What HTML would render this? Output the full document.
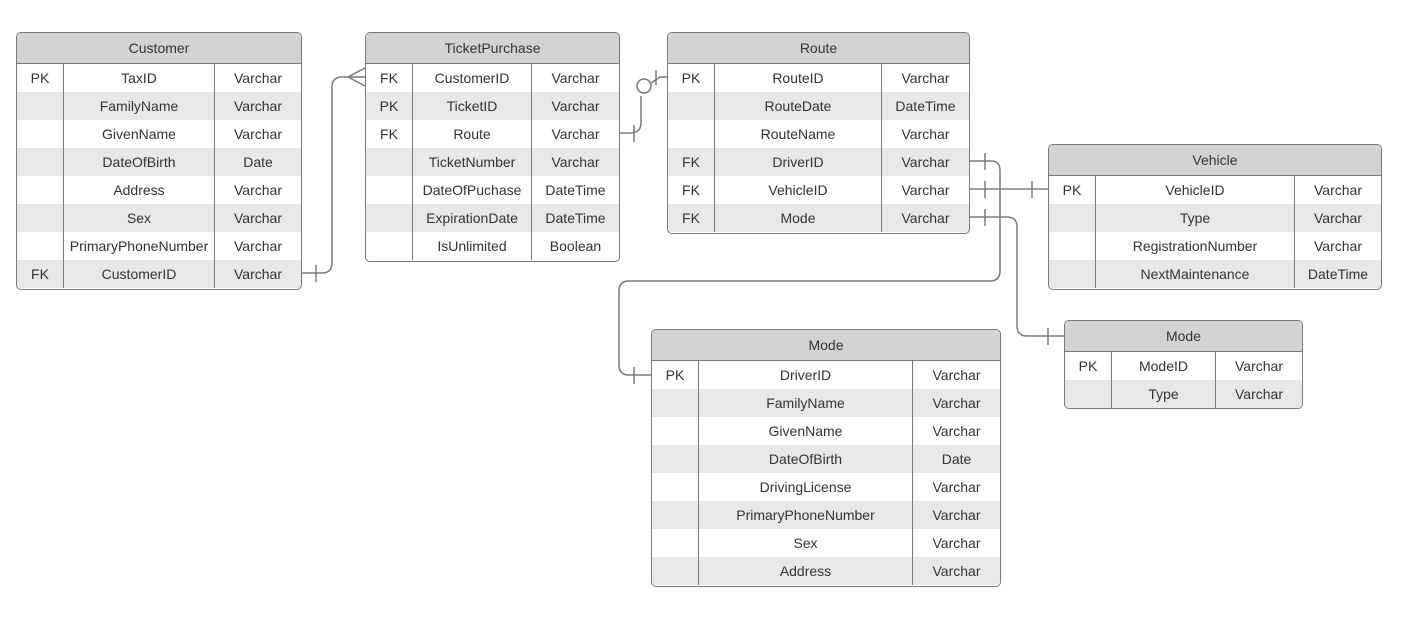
<!DOCTYPE html>
<html><head><meta charset="utf-8"><style>
html,body{margin:0;padding:0;background:#fff;width:1416px;height:629px;overflow:hidden;position:relative;font-family:"Liberation Sans",Arial,sans-serif;font-size:14px;color:#333}
.t{position:absolute;border:1.5px solid #7a7a7a;border-radius:5px;overflow:hidden;background:#fff;box-sizing:border-box}
.h{background:#d3d3d3;height:30px;line-height:30px;text-align:center;border-bottom:1.5px solid #7a7a7a}
.r{display:flex;height:28px;line-height:28px}
.r:nth-child(even){background:#e8e8e8}
.r div{text-align:center;border-right:1.5px solid #7a7a7a;box-sizing:border-box;white-space:nowrap}
.r div:last-child{border-right:none;flex:1}
svg{position:absolute;left:0;top:0}
</style></head><body>
<svg width="1416" height="629" fill="none" stroke="#7a7a7a" stroke-width="1.5">
<path d="M301 273 H322 Q332 273 332 263 V87 Q332 77 342 77 H365"/>
<path d="M316 265 V282"/>
<path d="M365 68 L348 77 L365 86"/>
<path d="M619 133 H630 Q641 133 641 123 V96"/>
<path d="M634 125 V142"/>
<circle cx="644" cy="86" r="7"/>
<path d="M651 83 L660 77 H667"/>
<path d="M656 70 V85"/>
<path d="M969 161 H991 Q1000 161 1000 171 V271 Q1000 281 990 281 H629 Q619 281 619 291 V365 Q619 375 629 375 H651"/>
<path d="M985 153 V170"/>
<path d="M634 367 V384"/>
<path d="M969 189 H1048"/>
<path d="M985 181 V198"/><path d="M1032 181 V198"/>
<path d="M969 217 H1007 Q1017 217 1017 227 V326 Q1017 336 1027 336 H1064"/>
<path d="M985 209 V226"/><path d="M1048 328 V345"/>
</svg>

<div class="t" style="left:16px;top:32px;width:286px;height:258px">
<div class="h">Customer</div>
<div>
<div class="r"><div style="width:47px">PK</div><div style="width:151px">TaxID</div><div>Varchar</div></div>
<div class="r"><div style="width:47px"></div><div style="width:151px">FamilyName</div><div>Varchar</div></div>
<div class="r"><div style="width:47px"></div><div style="width:151px">GivenName</div><div>Varchar</div></div>
<div class="r"><div style="width:47px"></div><div style="width:151px">DateOfBirth</div><div>Date</div></div>
<div class="r"><div style="width:47px"></div><div style="width:151px">Address</div><div>Varchar</div></div>
<div class="r"><div style="width:47px"></div><div style="width:151px">Sex</div><div>Varchar</div></div>
<div class="r"><div style="width:47px"></div><div style="width:151px">PrimaryPhoneNumber</div><div>Varchar</div></div>
<div class="r"><div style="width:47px">FK</div><div style="width:151px">CustomerID</div><div>Varchar</div></div>
</div></div>

<div class="t" style="left:365px;top:32px;width:255px;height:230px">
<div class="h">TicketPurchase</div>
<div>
<div class="r"><div style="width:47px">FK</div><div style="width:119px">CustomerID</div><div>Varchar</div></div>
<div class="r"><div style="width:47px">PK</div><div style="width:119px">TicketID</div><div>Varchar</div></div>
<div class="r"><div style="width:47px">FK</div><div style="width:119px">Route</div><div>Varchar</div></div>
<div class="r"><div style="width:47px"></div><div style="width:119px">TicketNumber</div><div>Varchar</div></div>
<div class="r"><div style="width:47px"></div><div style="width:119px">DateOfPuchase</div><div>DateTime</div></div>
<div class="r"><div style="width:47px"></div><div style="width:119px">ExpirationDate</div><div>DateTime</div></div>
<div class="r"><div style="width:47px"></div><div style="width:119px">IsUnlimited</div><div>Boolean</div></div>
</div></div>

<div class="t" style="left:667px;top:32px;width:303px;height:202px">
<div class="h">Route</div>
<div>
<div class="r"><div style="width:47px">PK</div><div style="width:167px">RouteID</div><div>Varchar</div></div>
<div class="r"><div style="width:47px"></div><div style="width:167px">RouteDate</div><div>DateTime</div></div>
<div class="r"><div style="width:47px"></div><div style="width:167px">RouteName</div><div>Varchar</div></div>
<div class="r"><div style="width:47px">FK</div><div style="width:167px">DriverID</div><div>Varchar</div></div>
<div class="r"><div style="width:47px">FK</div><div style="width:167px">VehicleID</div><div>Varchar</div></div>
<div class="r"><div style="width:47px">FK</div><div style="width:167px">Mode</div><div>Varchar</div></div>
</div></div>

<div class="t" style="left:1048px;top:144px;width:334px;height:146px">
<div class="h">Vehicle</div>
<div>
<div class="r"><div style="width:47px">PK</div><div style="width:199px">VehicleID</div><div>Varchar</div></div>
<div class="r"><div style="width:47px"></div><div style="width:199px">Type</div><div>Varchar</div></div>
<div class="r"><div style="width:47px"></div><div style="width:199px">RegistrationNumber</div><div>Varchar</div></div>
<div class="r"><div style="width:47px"></div><div style="width:199px">NextMaintenance</div><div>DateTime</div></div>
</div></div>

<div class="t" style="left:651px;top:329px;width:350px;height:258px">
<div class="h">Mode</div>
<div>
<div class="r"><div style="width:47px">PK</div><div style="width:214px">DriverID</div><div>Varchar</div></div>
<div class="r"><div style="width:47px"></div><div style="width:214px">FamilyName</div><div>Varchar</div></div>
<div class="r"><div style="width:47px"></div><div style="width:214px">GivenName</div><div>Varchar</div></div>
<div class="r"><div style="width:47px"></div><div style="width:214px">DateOfBirth</div><div>Date</div></div>
<div class="r"><div style="width:47px"></div><div style="width:214px">DrivingLicense</div><div>Varchar</div></div>
<div class="r"><div style="width:47px"></div><div style="width:214px">PrimaryPhoneNumber</div><div>Varchar</div></div>
<div class="r"><div style="width:47px"></div><div style="width:214px">Sex</div><div>Varchar</div></div>
<div class="r"><div style="width:47px"></div><div style="width:214px">Address</div><div>Varchar</div></div>
</div></div>

<div class="t" style="left:1064px;top:320px;width:239px;height:89px">
<div class="h">Mode</div>
<div>
<div class="r"><div style="width:47px">PK</div><div style="width:104px">ModeID</div><div>Varchar</div></div>
<div class="r"><div style="width:47px"></div><div style="width:104px">Type</div><div>Varchar</div></div>
</div></div>
</body></html>
